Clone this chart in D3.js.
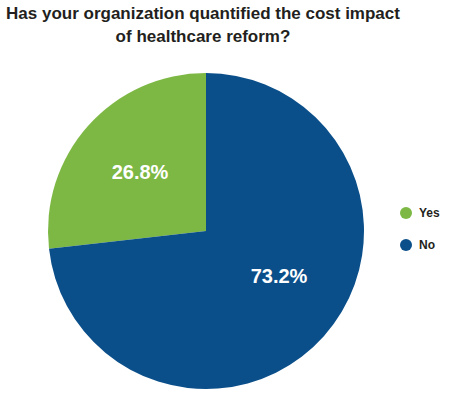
<!DOCTYPE html>
<html>
<head>
<meta charset="utf-8">
<script src="https://cdn.jsdelivr.net/npm/d3@7"></script>
<style>
    body { margin: 0; background: #fff; }
    .title { font-family: "Liberation Sans", Arial, sans-serif; font-weight: bold; font-size: 17px; fill: #231f20; }
    .pctLabel { font-family: "Liberation Sans", Arial, sans-serif; font-weight: bold; font-size: 20px; fill: #fff; }
    .legendText { font-family: "Liberation Sans", Arial, sans-serif; font-weight: bold; font-size: 12px; fill: #231f20; }
</style>
</head>
<body>
<script>
(function(){

    //chart data
    var categories = ["Yes", "No"];
    var values = [26.8, 73.2];
    var colors = ["#7cb843", "#0b4f8a"];
    var titleLines = ["Has your organization quantified the cost impact", "of healthcare reform?"];

window.onload = drawChart();

function drawChart(){

    var width = 449,
        height = 396;

    var svg = d3.select("body")
        .append("svg")
        .attr("width", width)
        .attr("height", height);

    //title
    svg.selectAll(".title")
        .data(titleLines)
        .enter()
        .append("text")
        .attr("class", "title")
        .attr("x", 203)
        .attr("y", function(d, i){ return 19 + i * 23; })
        .attr("text-anchor", "middle")
        .text(function(d){ return d; });

    var cx = 206, cy = 231, r = 158;

    var data = categories.map(function(c, i){ return {cat: c, val: values[i]}; });

    //green slice goes counter-clockwise from 12 o'clock
    var pie = d3.pie()
        .sort(null)
        .value(function(d){ return d.val; })
        .startAngle(-2 * Math.PI * values[0] / 100)
        .endAngle(2 * Math.PI - 2 * Math.PI * values[0] / 100);

    var arc = d3.arc().innerRadius(0).outerRadius(r);
    var labelArc = d3.arc().innerRadius(r * 0.56).outerRadius(r * 0.56);
    var labelNudge = [[0, 0], [7, -14]]; //small hand offsets for label placement

    var g = svg.append("g")
        .attr("transform", "translate(" + cx + "," + cy + ")");

    var slices = g.selectAll(".slice")
        .data(pie(data))
        .enter()
        .append("g")
        .attr("class", "slice");

    slices.append("path")
        .attr("d", arc)
        .attr("fill", function(d, i){ return colors[i]; });

    slices.append("text")
        .attr("class", "pctLabel")
        .attr("transform", function(d, i){
            var c = labelArc.centroid(d);
            return "translate(" + (c[0] + labelNudge[i][0]) + "," + (c[1] + labelNudge[i][1]) + ")";
        })
        .attr("text-anchor", "middle")
        .attr("dy", "0.35em")
        .text(function(d){ return d.data.val.toFixed(1) + "%"; });

    //legend
    var legend = svg.selectAll(".legend")
        .data(categories)
        .enter()
        .append("g")
        .attr("class", "legend")
        .attr("transform", function(d, i){ return "translate(406," + (213 + i * 32) + ")"; });

    legend.append("circle")
        .attr("r", 6)
        .attr("fill", function(d, i){ return colors[i]; });

    legend.append("text")
        .attr("class", "legendText")
        .attr("x", 13)
        .attr("dy", "0.36em")
        .text(function(d){ return d; });
};

})();
</script>
</body>
</html>
